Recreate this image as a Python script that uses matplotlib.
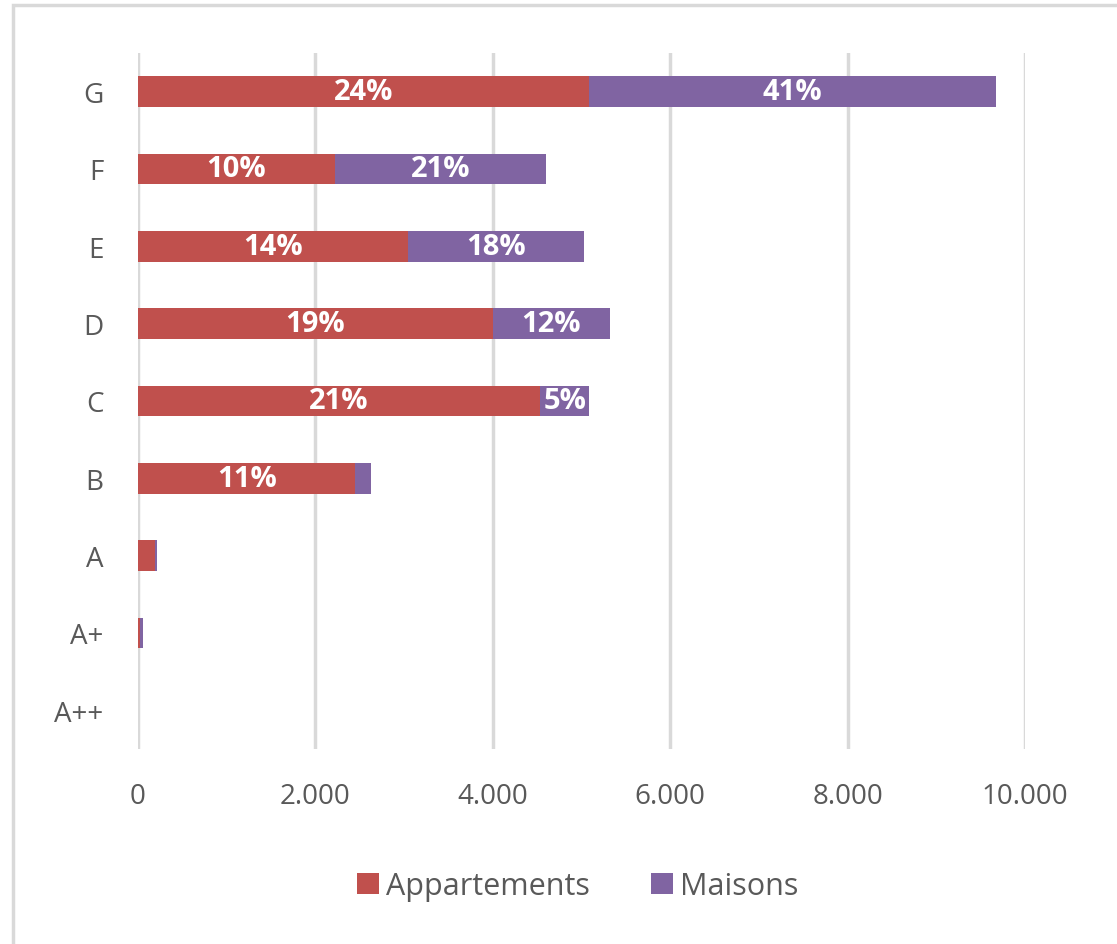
import matplotlib
matplotlib.use("Agg")
import matplotlib.pyplot as plt
from matplotlib.patches import Rectangle
from matplotlib.ticker import FuncFormatter

categories = ["A++", "A+", "A", "B", "C", "D", "E", "F", "G"]
appartements = [2, 20, 190, 2450, 4530, 4000, 3040, 2220, 5080]
maisons = [1, 40, 20, 180, 560, 1320, 1990, 2380, 4590]
labels_app = ["", "", "", "11%", "21%", "19%", "14%", "10%", "24%"]
labels_mai = ["", "", "", "", "5%", "12%", "18%", "21%", "41%"]
xticks = [0, 2000, 4000, 6000, 8000, 10000]

RED = "#C0504D"
PURPLE = "#8064A2"
TXT = "#595959"
GRID = "#D9D9D9"

plt.rcParams['font.family'] = ['Open Sans', 'DejaVu Sans']

fig = plt.figure(figsize=(11.17, 9.45), dpi=100)
ax = fig.add_axes([138/1117, 1 - 750/945, (1025-138)/1117, (750-54)/945])

y = list(range(len(categories)))
b1 = ax.barh(y, appartements, height=0.4, color=RED, label="Appartements", zorder=3)
b2 = ax.barh(y, maisons, left=appartements, height=0.4, color=PURPLE, label="Maisons", zorder=3)

for i in y:
    if labels_app[i]:
        ax.text(appartements[i] / 2, i, labels_app[i], ha="center", va="center",
                color="white", fontsize=21, fontweight="bold", zorder=4)
    if labels_mai[i]:
        ax.text(appartements[i] + maisons[i] / 2, i, labels_mai[i], ha="center", va="center",
                color="white", fontsize=21, fontweight="bold", zorder=4)

ax.set_xlim(0, 10000)
ax.set_ylim(-0.5, len(categories) - 0.5)
ax.set_xticks(xticks)
ax.xaxis.set_major_formatter(FuncFormatter(lambda v, p: f"{int(v):,}".replace(",", ".")))
ax.set_yticks(y)
ax.set_yticklabels(categories)
ax.tick_params(axis="both", length=0, labelcolor=TXT, labelsize=20)
ax.tick_params(axis="x", pad=24)
ax.tick_params(axis="y", pad=25)
ax.grid(axis="x", color=GRID, linewidth=2.5, zorder=0)
for s in ax.spines.values():
    s.set_visible(False)

leg = fig.legend(handles=[b1, b2], loc="center", bbox_to_anchor=(578/1117, 1 - 887/945),
                 ncol=2, frameon=False, fontsize=22, handlelength=0.7, handleheight=0.7,
                 handletextpad=0.25, columnspacing=2.0)
for t in leg.get_texts():
    t.set_color(TXT)

fig.patches.append(Rectangle((13/1117, -0.05), 1.1, 1 - 6/945 + 0.05, transform=fig.transFigure,
                             fill=False, edgecolor="#D9D9D9", linewidth=2.5, zorder=0))

fig.savefig("out.png", dpi=100)
